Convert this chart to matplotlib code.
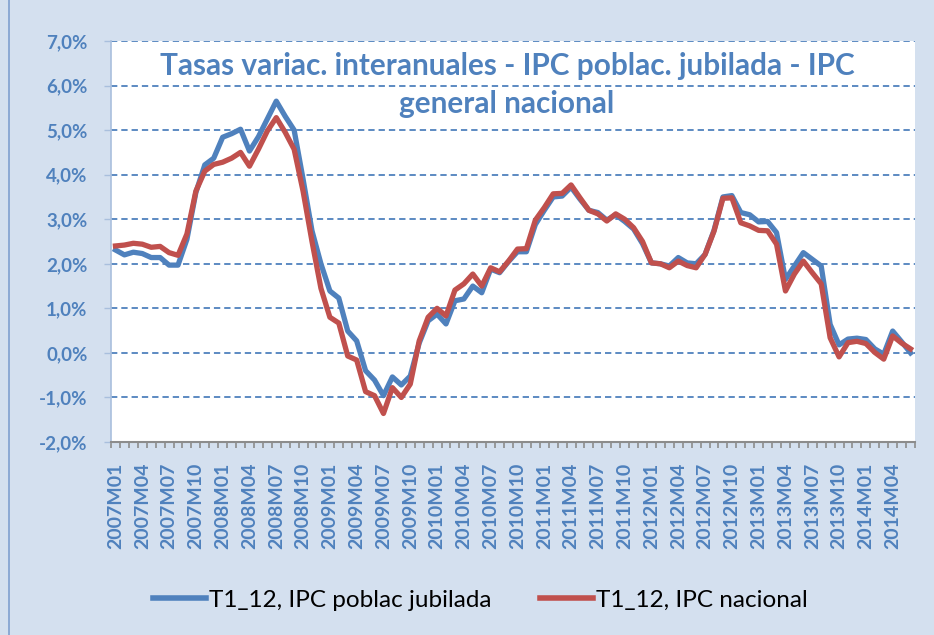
import matplotlib
matplotlib.use('Agg')
from matplotlib import pyplot as plt
from matplotlib.lines import Line2D
from matplotlib.ticker import FixedLocator, FuncFormatter

# monthly periods 2007M01 .. 2014M06
years = list(range(2007, 2015))
months = [f'{y}M{m:02d}' for y in years for m in range(1, 13)][:90]

jubilada = [2.31, 2.20, 2.26, 2.23, 2.14, 2.14, 1.97, 1.97, 2.55, 3.60, 4.22, 4.37,
            4.84, 4.92, 5.02, 4.53, 4.85, 5.25, 5.65, 5.31, 5.00, 3.90, 2.74, 2.00,
            1.39, 1.23, 0.49, 0.27, -0.40, -0.61, -0.96, -0.54, -0.72, -0.52, 0.22, 0.72,
            0.87, 0.65, 1.17, 1.21, 1.50, 1.35, 1.88, 1.80, 2.05, 2.27, 2.27, 2.88,
            3.20, 3.50, 3.52, 3.72, 3.45, 3.20, 3.15, 2.98, 3.10, 2.95, 2.78, 2.45,
            2.02, 2.00, 1.95, 2.14, 2.02, 2.00, 2.21, 2.75, 3.50, 3.53, 3.15, 3.10,
            2.94, 2.95, 2.70, 1.65, 1.95, 2.25, 2.10, 1.95, 0.64, 0.18, 0.31, 0.33,
            0.30, 0.09, -0.03, 0.49, 0.25, 0.00]

nacional = [2.40, 2.42, 2.46, 2.44, 2.37, 2.39, 2.25, 2.19, 2.67, 3.63, 4.08, 4.23,
            4.28, 4.37, 4.50, 4.19, 4.57, 4.98, 5.28, 4.95, 4.57, 3.63, 2.50, 1.45,
            0.80, 0.67, -0.07, -0.16, -0.87, -0.96, -1.36, -0.78, -1.00, -0.70, 0.27, 0.80,
            1.00, 0.83, 1.41, 1.55, 1.77, 1.50, 1.91, 1.82, 2.06, 2.33, 2.34, 2.98,
            3.26, 3.57, 3.58, 3.77, 3.48, 3.20, 3.12, 2.96, 3.12, 3.00, 2.81, 2.50,
            2.02, 2.00, 1.91, 2.06, 1.96, 1.91, 2.21, 2.73, 3.47, 3.48, 2.92, 2.85,
            2.75, 2.74, 2.44, 1.39, 1.77, 2.06, 1.80, 1.55, 0.34, -0.09, 0.23, 0.26,
            0.21, 0.01, -0.14, 0.38, 0.22, 0.09]

series_names = ['T1_12, IPC poblac jubilada', 'T1_12, IPC nacional']
title_lines = ['Tasas variac. interanuales - IPC poblac. jubilada - IPC', 'general nacional']
yticks = list(range(-2, 8))

BLUE = '#4F81BD'
RED = '#C0504D'
BG = '#D4E0EF'

W, H = 934, 635
fig = plt.figure(figsize=(W / 100, H / 100), dpi=100, facecolor=BG)
ax = fig.add_axes([111 / W, 1 - 442 / H, (915 - 111) / W, (442 - 41) / H])
ax.set_facecolor('white')

x = list(range(len(months)))
ax.plot(x, jubilada, color=BLUE, lw=3.8, solid_joinstyle='round', zorder=3)
ax.plot(x, nacional, color=RED, lw=3.8, solid_joinstyle='round', zorder=4)

ax.set_xlim(-0.5, len(months) - 0.5)
ax.set_ylim(-2, 7)

# y axis
ax.yaxis.set_major_locator(FixedLocator(yticks))
ax.yaxis.set_major_formatter(FuncFormatter(lambda v, p: f'{v:.1f}%'.replace('.', ',')))
ax.grid(axis='y', color=BLUE, lw=1.3, ls=(0, (3.5, 2.2)), zorder=1)
ax.tick_params(axis='y', length=5, width=1, color='#A9BFDD', pad=12,
               labelsize=13.5, labelcolor=BLUE)

# x axis: tick marks between categories, labels every 3 months
ax.set_xticks(x[::3])
ax.set_xticklabels(months[::3], rotation=90, ha='center', va='top')
ax.set_xticks([i - 0.5 for i in range(len(months) + 1)], minor=True)
ax.tick_params(axis='x', which='major', length=0, pad=15, labelsize=14, labelcolor=BLUE)
ax.tick_params(axis='x', which='minor', length=4, width=1.2, color='#8C8C8C')

for lab in ax.get_xticklabels() + ax.get_yticklabels():
    lab.set_fontfamily('Lato')
    lab.set_fontweight('bold')

ax.spines['top'].set_visible(False)
ax.spines['right'].set_visible(False)
ax.spines['left'].set_color('#A9BFDD')
ax.spines['left'].set_linewidth(1.2)
ax.spines['bottom'].set_color('#8C8C8C')
ax.spines['bottom'].set_linewidth(1.5)
ax.spines['bottom'].set_zorder(5)

# two-line title inside the plot area
for txt, base in zip(title_lines, [75, 113]):
    fig.text(507 / W, 1 - base / H, txt, ha='center', va='baseline', color=BLUE,
             fontsize=21.4, fontweight='bold', family='Lato')

handles = [Line2D([], [], color=BLUE, lw=4), Line2D([], [], color=RED, lw=4)]
fig.legend(handles, series_names, loc='center', bbox_to_anchor=(480 / W, 1 - 600 / H),
           ncol=2, frameon=False, prop={'family': 'Lato', 'size': 17.5},
           handlelength=2.2, handletextpad=0.1, columnspacing=2.0)

# outer chart border (left edge visible)
fig.add_artist(Line2D([9 / W, 9 / W], [0, 1], color='#7FA0CF', lw=1.2))

fig.savefig('out.png', dpi=100, facecolor=BG)
